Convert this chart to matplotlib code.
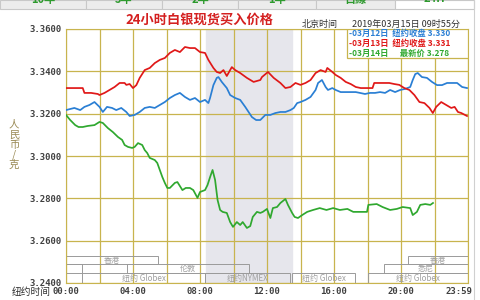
import matplotlib
matplotlib.use("Agg")
import matplotlib.pyplot as plt
import matplotlib.transforms as mtransforms
from matplotlib.patches import Rectangle
import numpy as np

CJK = ['Noto Sans CJK SC', 'DejaVu Sans']
MONO = 'DejaVu Sans Mono'
GRID = '#c8b44e'

# 时间(纽约时间, 小时)与价格
red_t = [0.0, 0.5, 1.0, 1.1, 1.5, 1.9, 2.0, 2.3, 2.6, 2.9, 3.2, 3.5, 3.6, 3.8, 4.0, 4.2,
         4.4, 4.7, 5.0, 5.3, 5.6, 5.9, 6.2, 6.5, 6.8, 7.1, 7.4, 7.7, 8.0, 8.3, 8.5, 8.8,
         9.0, 9.2, 9.4, 9.6, 9.9, 10.1, 10.4, 10.8, 11.2, 11.6, 11.7, 12.06, 12.4, 12.8,
         13.1, 13.4, 13.7, 14.0, 14.3, 14.6, 14.9, 15.2, 15.5, 15.6, 15.9, 16.1, 16.4,
         16.7, 17.0, 17.3, 17.6, 18.3, 18.4, 18.7, 19.3, 19.6, 19.9, 20.2, 20.5, 20.8,
         21.1, 21.4, 21.7, 21.9, 22.1, 22.4, 22.7, 23.0, 23.2, 23.4, 23.6, 23.94]
red_v = [3.3321, 3.3321, 3.3321, 3.3298, 3.3298, 3.3293, 3.3288, 3.3298, 3.3312, 3.3326,
         3.3345, 3.3345, 3.3336, 3.3340, 3.3321, 3.3335, 3.3369, 3.3406, 3.3416, 3.3439,
         3.3454, 3.3463, 3.3487, 3.3501, 3.3491, 3.3515, 3.3510, 3.3510, 3.3491, 3.3487,
         3.3454, 3.3416, 3.3397, 3.3392, 3.3406, 3.3378, 3.3420, 3.3406, 3.3392, 3.3369,
         3.3350, 3.3359, 3.3373, 3.3397, 3.3369, 3.3345, 3.3321, 3.3326, 3.3345, 3.3336,
         3.3345, 3.3359, 3.3392, 3.3406, 3.3397, 3.3416, 3.3397, 3.3383, 3.3369, 3.3350,
         3.3340, 3.3326, 3.3321, 3.3321, 3.3345, 3.3345, 3.3345, 3.3340, 3.3336, 3.3321,
         3.3312, 3.3288, 3.3255, 3.3250, 3.3227, 3.3203, 3.3232, 3.3255, 3.3241, 3.3227,
         3.3232, 3.3208, 3.3203, 3.3189]

blue_t = [0.0, 0.5, 0.85, 1.1, 1.4, 1.7, 2.0, 2.2, 2.45, 2.75, 3.0, 3.3, 3.6, 3.8, 4.1,
          4.4, 4.7, 5.0, 5.3, 5.6, 5.9, 6.2, 6.5, 6.8, 7.1, 7.4, 7.7, 8.0, 8.3, 8.5, 8.6,
          8.8, 9.0, 9.1, 9.3, 9.6, 9.8, 10.1, 10.4, 10.7, 10.9, 11.1, 11.35, 11.6, 11.9,
          12.2, 12.5, 12.8, 13.1, 13.4, 13.6, 13.8, 14.0, 14.3, 14.6, 14.9, 15.05, 15.28,
          15.5, 15.64, 15.9, 16.1, 16.4, 16.7, 17.0, 17.3, 17.55, 17.85, 18.15, 18.45,
          18.75, 19.05, 19.35, 19.65, 19.95, 20.25, 20.55, 20.7, 20.85, 21.0, 21.25,
          21.55, 21.85, 22.15, 22.45, 22.75, 23.05, 23.35, 23.65, 23.94]
blue_v = [3.3217, 3.3227, 3.3217, 3.3232, 3.3241, 3.3255, 3.3232, 3.3208, 3.3232, 3.3227,
          3.3217, 3.3227, 3.3208, 3.3189, 3.3194, 3.3208, 3.3227, 3.3232, 3.3227, 3.3241,
          3.3255, 3.3274, 3.3288, 3.3298, 3.3279, 3.3265, 3.3274, 3.3255, 3.3265, 3.3250,
          3.3274, 3.3335, 3.3369, 3.3373, 3.3350, 3.3321, 3.3288, 3.3274, 3.3265, 3.3232,
          3.3208, 3.3184, 3.3170, 3.3170, 3.3194, 3.3194, 3.3203, 3.3208, 3.3208, 3.3217,
          3.3227, 3.3250, 3.3255, 3.3265, 3.3279, 3.3312, 3.3345, 3.3359, 3.3326, 3.3312,
          3.3321, 3.3312, 3.3302, 3.3302, 3.3302, 3.3302, 3.3298, 3.3293, 3.3298, 3.3298,
          3.3302, 3.3298, 3.3312, 3.3302, 3.3312, 3.3317, 3.3326, 3.3359, 3.3387, 3.3392,
          3.3373, 3.3369, 3.3350, 3.3335, 3.3335, 3.3345, 3.3345, 3.3345, 3.3326, 3.3321]

green_t = [0.0, 0.25, 0.55, 0.75, 1.0, 1.3, 1.7, 2.0, 2.2, 2.5, 2.8, 3.1, 3.35, 3.5, 3.7,
           3.95, 4.1, 4.3, 4.55, 4.7, 4.85, 5.0, 5.3, 5.45, 5.6, 5.75, 5.9, 6.05, 6.2, 6.5,
           6.65, 6.95, 7.15, 7.4, 7.6, 7.85, 8.0, 8.3, 8.45, 8.6, 8.75, 8.9, 9.05, 9.2,
           9.35, 9.6, 9.8, 9.97, 10.2, 10.4, 10.55, 10.8, 11.0, 11.15, 11.4, 11.6, 11.75,
           12.0, 12.2, 12.35, 12.6, 12.8, 13.1, 13.25, 13.5, 13.65, 13.85, 14.1, 14.4,
           14.75, 15.15, 15.55, 15.95, 16.35, 16.8, 17.15, 17.55, 17.97, 18.05, 18.55,
           18.9, 19.35, 19.75, 20.1, 20.55, 20.7, 20.95, 21.15, 21.45, 21.75, 21.91]
green_v = [3.3194, 3.3170, 3.3146, 3.3137, 3.3137, 3.3142, 3.3146, 3.3161, 3.3156, 3.3132,
           3.3113, 3.3090, 3.3076, 3.3052, 3.3043, 3.3038, 3.3043, 3.3061, 3.3052, 3.3028,
           3.3014, 3.2991, 3.2981, 3.2967, 3.2934, 3.2901, 3.2873, 3.2849, 3.2849, 3.2873,
           3.2877, 3.2839, 3.2849, 3.2849, 3.2839, 3.2802, 3.2830, 3.2839, 3.2863, 3.2900,
           3.2934, 3.2887, 3.2792, 3.2745, 3.2736, 3.2731, 3.2688, 3.2665, 3.2688, 3.2674,
           3.2688, 3.2660, 3.2669, 3.2712, 3.2736, 3.2731, 3.2736, 3.2750, 3.2707, 3.2754,
           3.2759, 3.2778, 3.2797, 3.2769, 3.2731, 3.2712, 3.2707, 3.2721, 3.2736, 3.2745,
           3.2754, 3.2745, 3.2754, 3.2745, 3.2750, 3.2736, 3.2736, 3.2736, 3.2769, 3.2773,
           3.2759, 3.2745, 3.2750, 3.2759, 3.2754, 3.2721, 3.2736, 3.2769, 3.2773, 3.2769,
           3.2778]

legend_rows = [("-03月12日  纽约收盘 3.330", '#2a7fd4'),
               ("-03月13日  纽约收盘 3.331", '#e01818'),
               ("-03月14日      最新价 3.278", '#2fa82f')]

# 交易时段: (名称, 开始, 结束, 行)
sessions = [("香港", 0.0, 5.5, 2), ("香港", 20.4, 24.0, 2),
            ("", 0.0, 0.95, 1), ("伦敦", 3.64, 10.9, 1), ("悉尼", 19.0, 24.0, 1),
            ("纽约 Globex", 0.95, 8.3, 0), ("纽约NYMEX", 8.3, 13.4, 0),
            ("纽约 Globex", 13.5, 17.25, 0), ("纽约 Globex", 18.0, 24.0, 0)]

y_ticks = [3.24, 3.26, 3.28, 3.30, 3.32, 3.34, 3.36]
x_ticks = [0, 4, 8, 12, 16, 20]
x_labels = ["00:00", "04:00", "08:00", "12:00", "16:00", "20:00"]

fig = plt.figure(figsize=(4.8, 3.0), dpi=100)
fig.patch.set_facecolor('white')

# 顶部标签栏 (上半截在图外)
tab_edges = [0, 86, 162, 238, 316, 395, 474]
tab_names = ["10年", "5年", "2年", "1年", "日線", "24H"]
for i, name in enumerate(tab_names):
    x0, x1 = tab_edges[i], tab_edges[i + 1]
    fc = '#ececec' if i < 5 else 'white'
    fig.patches.append(Rectangle((x0 / 480, 1 - 9 / 300), (x1 - x0) / 480, 9 / 300,
                                 transform=fig.transFigure, facecolor=fc,
                                 edgecolor='#c8c8c8', linewidth=0.8))
    fig.text((x0 + x1) / 2 / 480, 1 + 1 / 300, name, color='#2e9a2e', fontsize=8,
             fontweight='bold', ha='center', va='center', family=CJK)
fig.add_artist(plt.Line2D([474 / 480, 474 / 480], [0, 1], color='#d0d0d0', linewidth=0.8,
                          transform=fig.transFigure))

ax = fig.add_axes([66 / 480, 17 / 300, 402 / 480, 254 / 300])
ax.set_xlim(0, 24)
ax.set_ylim(3.24, 3.36)

ax.axvspan(8.33, 13.5, color='#e6e6ec', zorder=0)
for t in range(0, 25, 2):
    ax.axvline(t, color=GRID, linewidth=0.9, zorder=1)
for v in y_ticks:
    ax.axhline(v, color=GRID, linewidth=0.9, zorder=1)
for s in ax.spines.values():
    s.set_color(GRID)

# 交易时段框
trans = mtransforms.blended_transform_factory(ax.transData, ax.transAxes)
row_y = [(0.0, 0.039), (0.039, 0.075), (0.075, 0.106)]
for name, t0, t1, r in sessions:
    y0, y1 = row_y[r]
    ax.add_patch(Rectangle((t0, y0), t1 - t0, y1 - y0, transform=trans, fill=False,
                           edgecolor='#9a9a9a', linewidth=0.7, zorder=2))
    if name:
        ax.text((t0 + t1) / 2, (y0 + y1) / 2, name, transform=trans, fontsize=5.8,
                color='#a0a0a0', ha='center', va='center', family=CJK, zorder=3)

ax.plot(blue_t, blue_v, color='#2a7fd4', linewidth=1.25, zorder=4)
ax.plot(red_t, red_v, color='#e01818', linewidth=1.25, zorder=4)
ax.plot(green_t, green_v, color='#2fa82f', linewidth=1.25, zorder=5)

ax.set_yticks(y_ticks)
ax.set_yticklabels([f"{v:.4f}" for v in y_ticks], family=MONO, fontsize=6.5,
                   fontweight='bold', color='#404040')
ax.set_xticks(x_ticks)
ax.set_xticklabels(x_labels, family=MONO, fontsize=6.5, fontweight='bold', color='#404040')
ax.tick_params(length=0, pad=3)

# 图例框
ax.add_patch(Rectangle((0.698, 0.886), 0.302, 0.114, transform=ax.transAxes,
                       facecolor='white', edgecolor=GRID, linewidth=0.9, zorder=6))
for i, (txt, col) in enumerate(legend_rows):
    ax.text(0.703, 0.982 - i * 0.039, txt, transform=ax.transAxes, color=col,
            fontsize=6, fontweight='bold', ha='left', va='center', family=CJK, zorder=7)

fig.text(199 / 480, 1 - 20 / 300, "24小时白银现货买入价格", color='#d42020', fontsize=9.5,
         fontweight='bold', ha='center', va='center', family=CJK)
fig.text(302 / 480, 1 - 24 / 300, "北京时间", color='#303030', fontsize=6.5,
         ha='left', va='center', family=CJK)
fig.text(352 / 480, 1 - 24 / 300, "2019年03月15日 09时55分", color='#303030', fontsize=6.5,
         ha='left', va='center', family=CJK)
fig.text(12 / 480, 1 - 292 / 300, "纽约时间", color='#303030', fontsize=7,
         ha='left', va='center', family=CJK)
fig.text(459 / 480, 1 - 292 / 300, "23:59", color='#404040', fontsize=6.5,
         fontweight='bold', ha='center', va='center', family=MONO)
fig.text(14 / 480, 1 - 145 / 300, "人\n民\n币\n/\n克", color='#9a8a55', fontsize=7.5,
         ha='center', va='center', family=CJK, linespacing=1.0)

fig.savefig("out.png", dpi=100)
